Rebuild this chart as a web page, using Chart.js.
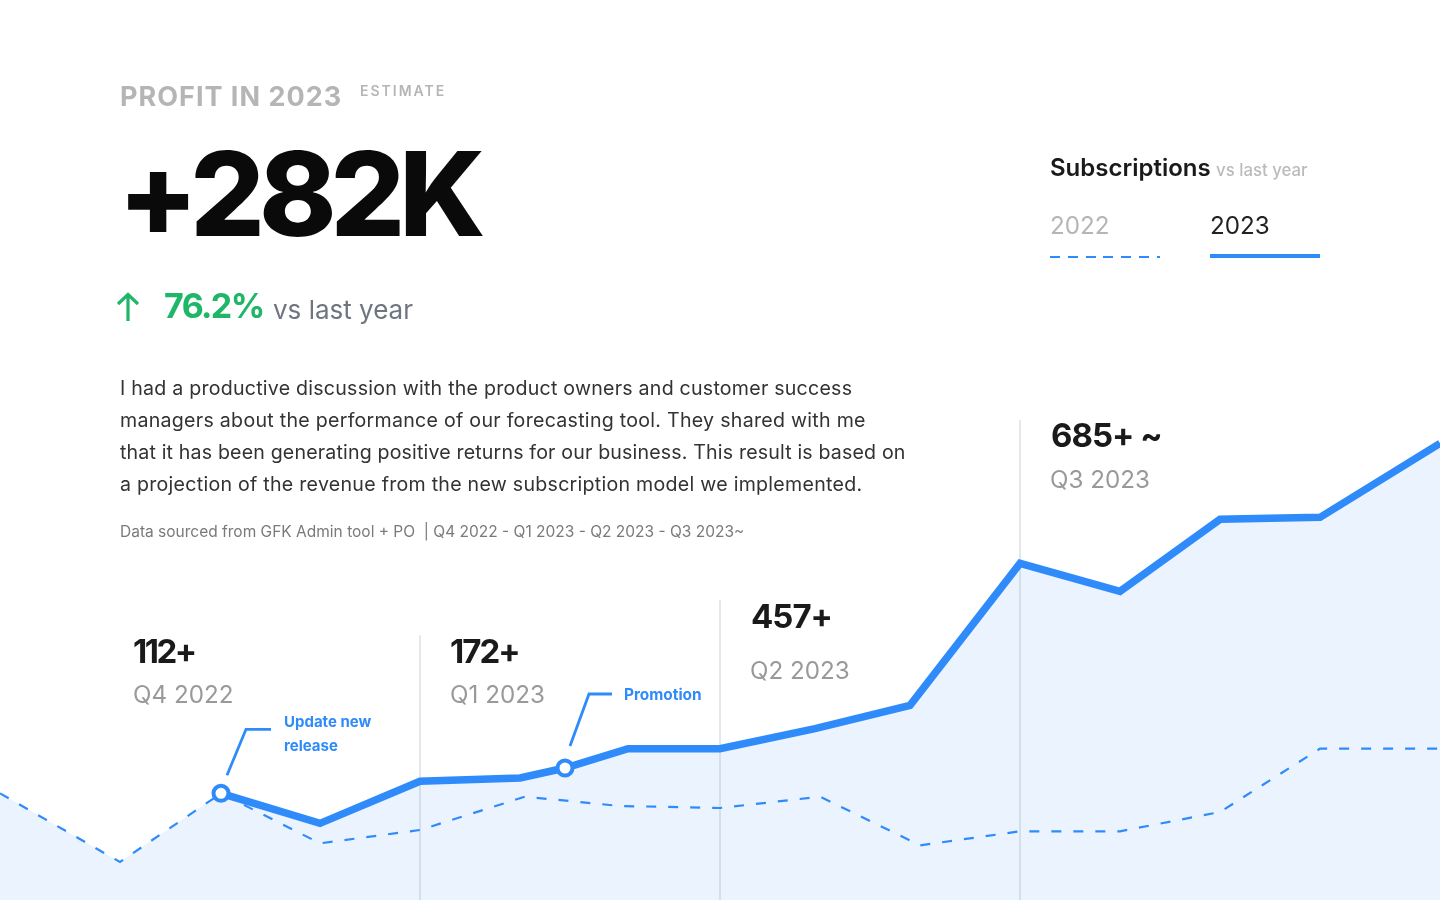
<!DOCTYPE html>
<html>
<head>
<meta charset="utf-8">
<title>Profit in 2023</title>
<script src="https://cdn.jsdelivr.net/npm/chart.js@4"></script>
<style>
  html, body { margin: 0; padding: 0; background: #fff; overflow: hidden; }
  body { position: relative; width: 1440px; height: 900px; font-family: Inter, "Noto Sans", sans-serif; }
  #chart { position: absolute; left: 0; top: 0; width: 1440px; height: 900px; }
  .t { position: absolute; white-space: nowrap; line-height: 1; }
  .num { font-size: 33px; font-weight: 700; letter-spacing: -1px; color: #1a1a1a; }
  .qtr { font-size: 24.2px; font-weight: 400; color: #999; }
  .note { font-size: 15px; font-weight: 700; color: #2f8bfa; }
  .para { font-size: 19.6px; color: #333; line-height: 32px; }
</style>
</head>
<body>
<canvas id="chart" width="1440" height="900"></canvas>

<div class="t" style="left:120px;top:83px;font-size:27px;font-weight:700;letter-spacing:1px;color:#b5b5b5">PROFIT IN 2023</div>
<div class="t" style="left:360px;top:84px;font-size:14px;font-weight:600;letter-spacing:2px;color:#b5b5b5">ESTIMATE</div>
<div class="t" style="left:118px;top:135px;font-size:117px;font-weight:800;letter-spacing:-6px;color:#0a0a0a">+282K</div>

<svg style="position:absolute;left:114px;top:290px" width="30" height="34" fill="none" stroke="#1fb767" stroke-width="3.2">
  <path d="M14 31V5M4 14L14 4.5L24 14"/>
</svg>
<div class="t" style="left:164px;top:289px;font-size:34px;font-weight:700;letter-spacing:-1.6px;color:#1fb767">76.2%</div>
<div class="t" style="left:273px;top:297px;font-size:26px;color:#6f7580">vs last year</div>

<div class="t para" style="left:120px;top:372px"><span style="letter-spacing:0.23px">I had a productive discussion with the product owners and customer success</span><br><span style="letter-spacing:0.27px">managers about the performance of our forecasting tool. They shared with me</span><br><span style="letter-spacing:0.16px">that it has been generating positive returns for our business. This result is based on</span><br><span style="letter-spacing:0.26px">a projection of the revenue from the new subscription model we implemented.</span></div>
<div class="t" style="left:120px;top:524px;font-size:15.5px;color:#7a7a7a">Data sourced from GFK Admin tool + PO &nbsp;| Q4 2022 - Q1 2023 - Q2 2023 - Q3 2023~</div>

<div class="t" style="left:1050px;top:156px;font-size:24px;font-weight:600;color:#1a1a1a">Subscriptions</div>
<div class="t" style="left:1216px;top:162px;font-size:16.8px;font-weight:500;color:#bbb">vs last year</div>
<div class="t" style="left:1050px;top:214px;font-size:24.2px;color:#b5b5b5">2022</div>
<div class="t" style="left:1210px;top:214px;font-size:24.2px;color:#222">2023</div>
<div style="position:absolute;left:1050px;top:256px;width:110px;height:2px;background:repeating-linear-gradient(90deg,#2f8bfa 0 10px,transparent 10px 17.8px)"></div>
<div style="position:absolute;left:1210px;top:254px;width:110px;height:4px;background:#2f8bfa"></div>

<div class="t num" style="left:133px;top:635px;letter-spacing:-2.5px">112+</div>
<div class="t qtr" style="left:133px;top:683px">Q4 2022</div>
<div class="t num" style="left:450px;top:635px;letter-spacing:-2px">172+</div>
<div class="t qtr" style="left:450px;top:683px">Q1 2023</div>
<div class="t num" style="left:751px;top:600px">457+</div>
<div class="t qtr" style="left:750px;top:659px">Q2 2023</div>
<div class="t num" style="left:1051px;top:419px">685+ ~</div>
<div class="t qtr" style="left:1050px;top:468px">Q3 2023</div>

<div class="t note" style="left:284px;top:714px">Update new</div>
<div class="t note" style="left:284px;top:738px">release</div>
<div class="t note" style="left:624px;top:687px;font-size:15.4px">Promotion</div>

<script>
// x axis is in months, 4.2 = start of Q1 2023
const months2023 = [2.21, 3.2, 4.2, 5.2, 5.65, 6.28, 7.2, 8.15, 9.1, 10.2, 11.2, 12.2, 13.2, 14.4];
const values2023 = [160, 115, 178, 183, 198, 227, 227, 257, 292, 505, 463, 571, 574, 685];
const months2022 = [0, 1.2, 2.21, 3.2, 4.2, 5.25, 6.2, 7.2, 8.2, 9.2, 10.2, 11.2, 12.2, 13.2, 14.4];
const values2022 = [160, 57, 160, 85, 105, 155, 141, 138, 155, 82, 103, 103, 132, 227, 227];
const markedPoints = [0, 4];
const quarterMonths = [4.2, 7.2, 10.2];
const quarterTops = [397, 450, 720];

function toPoints(xs, ys) {
  return xs.map((x, i) => ({ x: x, y: ys[i] }));
}

const BLUE = '#2f8bfa';
const FILL = '#eaf3fe';

// thin quarter dividers, over the fill and under the lines
const quarterRules = {
  id: 'quarterRules',
  beforeDatasetsDraw(chart) {
    const c = chart.ctx, sx = chart.scales.x, sy = chart.scales.y;
    c.save();
    c.strokeStyle = 'rgba(150,165,185,0.33)';
    c.lineWidth = 1.5;
    quarterMonths.forEach((m, i) => {
      c.beginPath();
      c.moveTo(sx.getPixelForValue(m), sy.getPixelForValue(0));
      c.lineTo(sx.getPixelForValue(m), sy.getPixelForValue(quarterTops[i]));
      c.stroke();
    });
    c.restore();
  }
};

// the little elbow leader from a marked point to its note
const leaders = {
  id: 'leaders',
  afterDatasetsDraw(chart) {
    const c = chart.ctx, pts = chart.getDatasetMeta(0).data;
    const shapes = [
      [[6, -18], [25, -64], [50, -64]],
      [[5, -22], [24, -74], [47, -74]]
    ];
    c.save();
    c.strokeStyle = BLUE;
    c.lineWidth = 2.8;
    markedPoints.forEach((idx, i) => {
      const p = pts[idx];
      c.beginPath();
      shapes[i].forEach((s, k) => {
        if (k === 0) c.moveTo(p.x + s[0], p.y + s[1]);
        else c.lineTo(p.x + s[0], p.y + s[1]);
      });
      c.stroke();
    });
    c.restore();
  }
};

new Chart(document.getElementById('chart'), {
  type: 'line',
  data: {
    datasets: [
      {
        label: '2023',
        data: toPoints(months2023, values2023),
        borderColor: BLUE,
        borderWidth: 7.5,
        borderJoinStyle: 'miter',
        backgroundColor: FILL,
        fill: 'origin',
        pointRadius: ctx => markedPoints.includes(ctx.dataIndex) ? 7.5 : 0,
        pointBackgroundColor: '#fff',
        pointBorderColor: BLUE,
        pointBorderWidth: 4
      },
      {
        label: '2022',
        data: toPoints(months2022, values2022),
        borderColor: BLUE,
        borderWidth: 2.2,
        borderDash: [10, 12],
        pointRadius: 0,
        fill: false
      },
      {
        // fill under the 2022 line, up to where 2023 starts
        label: 'lead-in',
        data: toPoints(months2022.slice(0, 3), values2022.slice(0, 3)),
        borderWidth: 0,
        borderColor: 'transparent',
        backgroundColor: FILL,
        fill: 'origin',
        pointRadius: 0
      }
    ]
  },
  options: {
    responsive: false,
    animation: false,
    layout: { padding: 0, autoPadding: false },
    scales: {
      x: { type: 'linear', min: 0, max: 14.4, display: false },
      y: { min: 0, max: 1350, display: false }
    },
    plugins: {
      legend: { display: false },
      tooltip: { enabled: false },
      filler: { drawTime: 'beforeDatasetsDraw' }
    }
  },
  plugins: [quarterRules, leaders]
});
</script>
</body>
</html>
